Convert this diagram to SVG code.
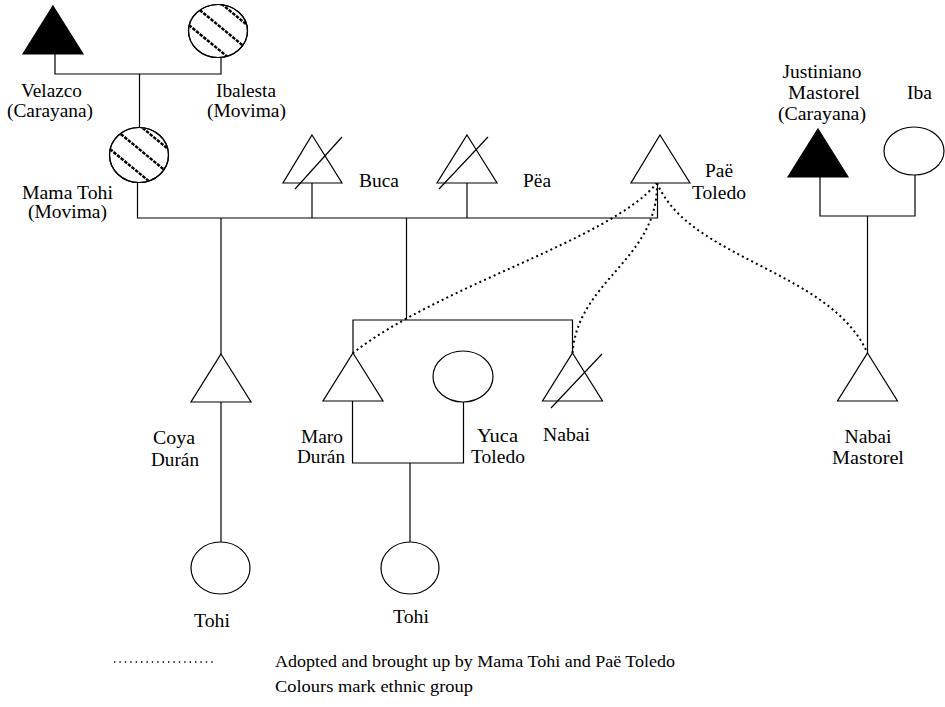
<svg xmlns="http://www.w3.org/2000/svg" xmlns:xlink="http://www.w3.org/1999/xlink" width="945" height="707" viewBox="0 0 945 707">
  <style>
    .ln { fill: none; stroke: #000; stroke-width: 1.2; }
    .sym { fill: #fff; stroke: #000; stroke-width: 1.2; }
    .blk { fill: #000; stroke: #000; stroke-width: 1.2; }
    .adopt { fill: none; stroke: #000; stroke-width: 2; stroke-dasharray: 2 3.2; }
    .hatch { stroke: #000; stroke-width: 2.5; stroke-dasharray: 3.5 1.2; }
    text { font-family: "Liberation Serif", "Times New Roman", serif; font-size: 18px; fill: #000; }
    .mid { text-anchor: middle; }
    .key { font-size: 17px; }
  </style>
  <defs>
    <!-- diagonal bands marking Movima ethnicity, drawn around (0,0) -->
    <clipPath id="movimaClip" clipPathUnits="userSpaceOnUse">
      <ellipse cx="0" cy="0" rx="29.5" ry="27"/>
    </clipPath>
    <g id="movimaBands" class="hatch">
      <line x1="-40" y1="-63" x2="40" y2="3"/>
      <line x1="-40" y1="-39" x2="40" y2="27"/>
      <line x1="-40" y1="-15" x2="40" y2="51"/>
    </g>
  </defs>

  <!-- connectors -->
  <g id="connectors">
    <!-- Velazco + Ibalesta -->
    <path class="ln" d="M55,54 V74 H221 V57"/>
    <path class="ln" d="M139.5,74 V128"/>
    <!-- Mama Tohi + Paë Toledo sibling/marriage bar -->
    <path class="ln" d="M137.5,183 V218 H657.5 V183"/>
    <path class="ln" d="M312,183 V218"/>
    <path class="ln" d="M467,183 V218"/>
    <!-- Coya Durán -->
    <path class="ln" d="M221,218 V354"/>
    <path class="ln" d="M221,402 V542"/>
    <!-- children group -->
    <path class="ln" d="M406.5,218 V320"/>
    <path class="ln" d="M353,353 V320 H572.5 V353"/>
    <!-- Maro Durán + Yuca Toledo -->
    <path class="ln" d="M352.5,401 V463 H463.5 V402"/>
    <path class="ln" d="M410,463 V542"/>
    <!-- Justiniano Mastorel + Iba -->
    <path class="ln" d="M820,177 V216 H915 V175"/>
    <path class="ln" d="M867.5,216 V353"/>
    <!-- adoption links -->
    <path class="adopt" d="M657,183 C610,240 440,285 353,353"/>
    <path class="adopt" d="M657,183 C658,260 578,280 572.5,353"/>
    <path class="adopt" d="M657,183 C690,260 830,270 867.5,353"/>
  </g>

  <!-- people -->
  <g id="velazco">
    <polygon class="blk" points="53,6 83,54 23,54"/>
    <text x="21" y="97" textLength="61" lengthAdjust="spacingAndGlyphs">Velazco</text>
    <text x="7" y="117" textLength="86" lengthAdjust="spacingAndGlyphs">(Carayana)</text>
  </g>
  <g id="ibalesta">
    <g transform="translate(218,31)">
      <ellipse class="sym" cx="0" cy="0" rx="29.5" ry="26.5"/>
      <g clip-path="url(#movimaClip)"><use xlink:href="#movimaBands"/></g>
      <ellipse class="ln" cx="0" cy="0" rx="29.5" ry="26.5"/>
    </g>
    <text x="216" y="97" textLength="60" lengthAdjust="spacingAndGlyphs">Ibalesta</text>
    <text x="207" y="117" textLength="79" lengthAdjust="spacingAndGlyphs">(Movima)</text>
  </g>
  <g id="mama-tohi">
    <g transform="translate(139,155)">
      <ellipse class="sym" cx="0" cy="0" rx="29.5" ry="27.5"/>
      <g clip-path="url(#movimaClip)"><use xlink:href="#movimaBands"/></g>
      <ellipse class="ln" cx="0" cy="0" rx="29.5" ry="27.5"/>
    </g>
    <text x="22" y="199" textLength="91" lengthAdjust="spacingAndGlyphs">Mama Tohi</text>
    <text x="28" y="218" textLength="79" lengthAdjust="spacingAndGlyphs">(Movima)</text>
  </g>
  <g id="buca">
    <polygon class="sym" points="312,135 342,183 283,183"/>
    <line class="ln" x1="295" y1="189" x2="342" y2="137"/>
    <text x="359" y="187" textLength="40" lengthAdjust="spacingAndGlyphs">Buca</text>
  </g>
  <g id="pea">
    <polygon class="sym" points="467,135 497,183 437,183"/>
    <line class="ln" x1="439" y1="189" x2="488" y2="137"/>
    <text x="523" y="187" textLength="28" lengthAdjust="spacingAndGlyphs">Pëa</text>
  </g>
  <g id="pae-toledo">
    <polygon class="sym" points="660,135 690,183 631,183"/>
    <text x="705" y="177" textLength="28" lengthAdjust="spacingAndGlyphs">Paë</text>
    <text x="692" y="199" textLength="54" lengthAdjust="spacingAndGlyphs">Toledo</text>
  </g>
  <g id="justiniano-mastorel">
    <polygon class="blk" points="818,129 848,177 788,177"/>
    <text class="mid" x="822" y="78" textLength="79" lengthAdjust="spacingAndGlyphs">Justiniano</text>
    <text class="mid" x="824" y="99" textLength="72" lengthAdjust="spacingAndGlyphs">Mastorel</text>
    <text class="mid" x="822" y="120" textLength="88" lengthAdjust="spacingAndGlyphs">(Carayana)</text>
  </g>
  <g id="iba">
    <ellipse class="sym" cx="914" cy="151" rx="30" ry="24"/>
    <text x="907" y="99" textLength="25" lengthAdjust="spacingAndGlyphs">Iba</text>
  </g>
  <g id="coya-duran">
    <polygon class="sym" points="221,354 251,402 191,402"/>
    <text x="153" y="444" textLength="42" lengthAdjust="spacingAndGlyphs">Coya</text>
    <text x="151" y="466" textLength="48" lengthAdjust="spacingAndGlyphs">Durán</text>
  </g>
  <g id="maro-duran">
    <polygon class="sym" points="353,353 383,401 323,401"/>
    <text x="301" y="443" textLength="42" lengthAdjust="spacingAndGlyphs">Maro</text>
    <text x="297" y="463" textLength="48" lengthAdjust="spacingAndGlyphs">Durán</text>
  </g>
  <g id="yuca-toledo">
    <ellipse class="sym" cx="463" cy="376.5" rx="30" ry="25.5"/>
    <text x="477" y="442" textLength="41" lengthAdjust="spacingAndGlyphs">Yuca</text>
    <text x="471" y="463" textLength="54" lengthAdjust="spacingAndGlyphs">Toledo</text>
  </g>
  <g id="nabai">
    <polygon class="sym" points="572.5,353 602.5,401 542.5,401"/>
    <line class="ln" x1="551" y1="408" x2="602" y2="354"/>
    <text x="543" y="441" textLength="47" lengthAdjust="spacingAndGlyphs">Nabai</text>
  </g>
  <g id="nabai-mastorel">
    <polygon class="sym" points="867.5,353 897.5,401 837.5,401"/>
    <text class="mid" x="868" y="443" textLength="47" lengthAdjust="spacingAndGlyphs">Nabai</text>
    <text class="mid" x="868" y="464" textLength="72" lengthAdjust="spacingAndGlyphs">Mastorel</text>
  </g>
  <g id="tohi-1">
    <ellipse class="sym" cx="220.5" cy="568" rx="29.5" ry="26"/>
    <text x="194" y="627" textLength="36" lengthAdjust="spacingAndGlyphs">Tohi</text>
  </g>
  <g id="tohi-2">
    <ellipse class="sym" cx="410" cy="568" rx="29" ry="26"/>
    <text x="393" y="623" textLength="36" lengthAdjust="spacingAndGlyphs">Tohi</text>
  </g>

  <!-- key -->
  <g id="legend">
    <line x1="114" y1="662" x2="216" y2="662" stroke="#000" stroke-width="1.4" stroke-dasharray="1.4 4"/>
    <text class="key" x="275" y="667" textLength="400" lengthAdjust="spacingAndGlyphs">Adopted and brought up by Mama Tohi and Paë Toledo</text>
    <text class="key" x="275" y="692" textLength="198" lengthAdjust="spacingAndGlyphs">Colours mark ethnic group</text>
  </g>
</svg>
